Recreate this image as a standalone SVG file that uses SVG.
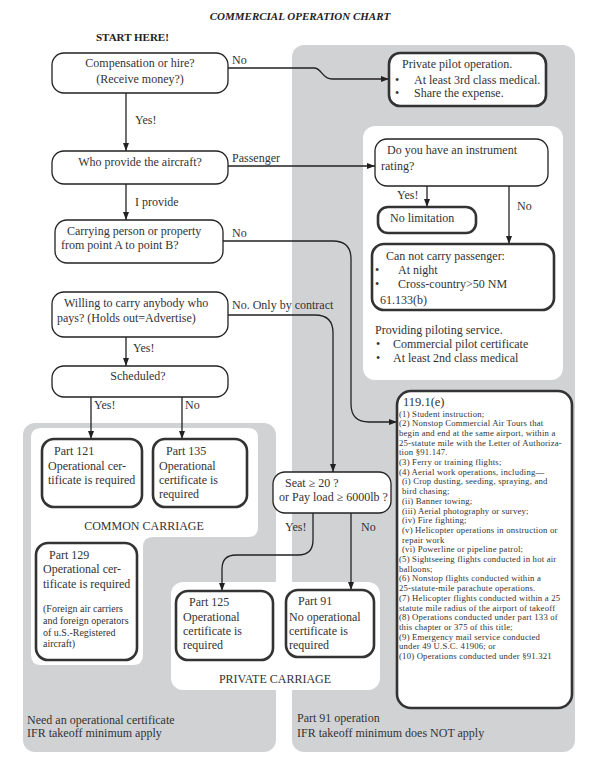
<svg xmlns="http://www.w3.org/2000/svg" width="603" height="763" viewBox="0 0 603 763">
<defs>
<marker id="arr" markerUnits="userSpaceOnUse" markerWidth="8" markerHeight="6" refX="8" refY="3" orient="auto">
<path d="M0,0 L8,3 L0,6 z" fill="#222"/>
</marker>
<style>
text{font-family:"Liberation Serif","Times New Roman",serif;fill:#333;font-size:12px}
.title{font-weight:bold;font-style:italic;font-size:11px;fill:#222}
.start{font-weight:bold;font-size:11px;fill:#222}
.c{text-anchor:middle}
.sm{font-size:8.7px;letter-spacing:0.2px}
.fs{font-size:10px}
.thin{fill:#fff;stroke:#222;stroke-width:1.3}
.thick{fill:#fff;stroke:#333;stroke-width:2.6}
.gray{fill:#d1d2d4}
.white{fill:#fff}
.con path{fill:none;stroke:#222;stroke-width:1.3;marker-end:url(#arr)}
</style>
</defs>
<rect width="603" height="763" fill="#fff"/>
<g id="panels">
<rect class="gray" x="292" y="45" width="283" height="707" rx="12"/>
<rect class="gray" x="23" y="423" width="253" height="329" rx="12"/>
<rect class="white" x="363" y="126" width="200" height="254" rx="12"/>
<path class="white" d="M41,428 H248 Q258,428 258,438 V527 Q258,537 248,537 H153 Q143,537 143,547 V655 Q143,665 133,665 H41 Q31,665 31,655 V438 Q31,428 41,428 Z"/>
<rect class="white" x="171" y="582" width="209" height="108" rx="12"/>
</g>
<text class="title c" x="300" y="20">COMMERCIAL OPERATION CHART</text>
<text class="start" x="96" y="41">START HERE!</text>
<g class="con" id="connectors">
<path d="M126,93 V151"/>
<path d="M228,68 H314 C322,68 322,79 332,79 H389"/>
<path d="M228,166 H375"/>
<path d="M126,184 V220"/>
<path d="M223,241 H333 Q351,241 351,259 V404 Q351,422 369,422 H397"/>
<path d="M228,315 H315 Q333,315 333,333 V472"/>
<path d="M126,337 V366"/>
<path d="M91,397 V439"/>
<path d="M182,397 V439"/>
<path d="M313,513 V540 Q313,555 298,555 H236 Q222,555 222,569 V591"/>
<path d="M351,513 V590"/>
<path d="M427,186 V207"/>
<path d="M509,186 V244"/>
</g>
<g id="labels">
<text x="135" y="124">Yes!</text>
<text x="232" y="64">No</text>
<text x="232" y="162">Passenger</text>
<text x="135" y="206">I provide</text>
<text x="232" y="237">No</text>
<text x="232" y="309">No. Only by contract</text>
<text x="133" y="352">Yes!</text>
<text x="94" y="409">Yes!</text>
<text x="185" y="409">No</text>
<text x="285" y="531">Yes!</text>
<text x="361" y="531">No</text>
<text x="397" y="199">Yes!</text>
<text x="517" y="210">No</text>
</g>
<g id="n-comp">
<rect class="thin" x="52" y="53" width="176" height="40" rx="12"/>
<text class="c" x="140" y="67">Compensation or hire?</text>
<text class="c" x="140" y="83">(Receive money?)</text>
</g>
<g id="n-who">
<rect class="thin" x="52" y="151" width="176" height="33" rx="12"/>
<text class="c" x="140" y="166">Who provide the aircraft?</text>
</g>
<g id="n-carry">
<rect class="thin" x="55" y="220" width="168" height="43" rx="12"/>
<text x="67" y="235">Carrying person or property</text>
<text x="61" y="249">from point A to point B?</text>
</g>
<g id="n-willing">
<rect class="thin" x="52" y="292" width="176" height="45" rx="12"/>
<text x="64" y="307">Willing to carry anybody who</text>
<text x="57" y="322">pays? (Holds out=Advertise)</text>
</g>
<g id="n-sched">
<rect class="thin" x="52" y="366" width="176" height="31" rx="12"/>
<text class="c" x="138" y="380">Scheduled?</text>
</g>
<g id="n-private">
<rect class="thick" x="389" y="53" width="157" height="53" rx="11"/>
<text x="402" y="68">Private pilot operation.</text>
<text x="395" y="84">•</text>
<text x="414" y="84">At least 3rd class medical.</text>
<text x="395" y="97">•</text>
<text x="414" y="97">Share the expense.</text>
</g>
<g id="n-instr">
<rect class="thin" x="375" y="139" width="173" height="47" rx="12"/>
<text x="387" y="154">Do you have an instrument</text>
<text x="381" y="170">rating?</text>
</g>
<g id="n-nolim">
<rect class="thick" x="378" y="207" width="98" height="26" rx="10"/>
<text x="390" y="222">No limitation</text>
</g>
<g id="n-cannot">
<rect class="thick" x="372" y="244" width="182" height="66" rx="12"/>
<text x="386" y="260">Can not carry passenger:</text>
<text x="375" y="274">•</text>
<text x="398" y="274">At night</text>
<text x="375" y="288">•</text>
<text x="398" y="288">Cross-country&gt;50 NM</text>
<text x="380" y="304">61.133(b)</text>
</g>
<g id="n-piloting">
<text x="375" y="334">Providing piloting service.</text>
<text x="376" y="348">•</text>
<text x="393" y="348">Commercial pilot certificate</text>
<text x="376" y="362">•</text>
<text x="393" y="362">At least 2nd class medical</text>
</g>
<g id="n-121">
<rect class="thick" x="42" y="439" width="100" height="68" rx="12"/>
<text x="54" y="455">Part 121</text>
<text x="48" y="470">Operational cer-</text>
<text x="48" y="484">tificate is required</text>
</g>
<g id="n-135">
<rect class="thick" x="153" y="439" width="94" height="68" rx="12"/>
<text x="166" y="455">Part 135</text>
<text x="159" y="470">Operational</text>
<text x="159" y="484">certificate is</text>
<text x="159" y="498">required</text>
</g>
<text class="c" x="144" y="530">COMMON CARRIAGE</text>
<g id="n-129">
<rect class="thick" x="36" y="543" width="101" height="117" rx="12"/>
<text x="49" y="559">Part 129</text>
<text x="43" y="573">Operational cer-</text>
<text x="43" y="588">tificate is required</text>
<text class="fs" x="43" y="612">(Foreign air carriers</text>
<text class="fs" x="43" y="624">and foreign operators</text>
<text class="fs" x="43" y="636">of u.S.-Registered</text>
<text class="fs" x="43" y="647">aircraft)</text>
</g>
<g id="n-seat">
<rect class="thin" x="273" y="472" width="118" height="41" rx="12"/>
<text x="285" y="487">Seat ≥ 20 ?</text>
<text x="279" y="501">or Pay load ≥ 6000lb ?</text>
</g>
<g id="n-125">
<rect class="thick" x="176" y="591" width="97" height="69" rx="12"/>
<text x="189" y="606">Part 125</text>
<text x="183" y="621">Operational</text>
<text x="183" y="635">certificate is</text>
<text x="183" y="649">required</text>
</g>
<g id="n-91">
<rect class="thick" x="286" y="590" width="88" height="67" rx="12"/>
<text x="298" y="605">Part 91</text>
<text x="289" y="621">No operational</text>
<text x="289" y="635">certificate is</text>
<text x="289" y="649">required</text>
</g>
<text class="c" x="275" y="683">PRIVATE CARRIAGE</text>
<g id="n-119">
<rect class="thick" x="397" y="391" width="175" height="317" rx="14"/>
<text x="403" y="406" style="font-size:12.5px">119.1(e)</text>
<text class="sm" x="399" y="416.5">(1) Student instruction;</text>
<text class="sm" x="399" y="426.2">(2) Nonstop Commercial Air Tours that</text>
<text class="sm" x="399" y="435.9">begin and end at the same airport, within a</text>
<text class="sm" x="399" y="445.6">25-statute mile with the Letter of Authoriza-</text>
<text class="sm" x="399" y="455.3">tion  §91.147.</text>
<text class="sm" x="399" y="465">(3) Ferry or training flights;</text>
<text class="sm" x="399" y="474.7">(4) Aerial work operations, including—</text>
<text class="sm" x="402" y="484.4">(i) Crop dusting, seeding, spraying, and</text>
<text class="sm" x="402" y="494.1">bird chasing;</text>
<text class="sm" x="402" y="503.8">(ii) Banner towing;</text>
<text class="sm" x="402" y="513.5">(iii) Aerial photography or survey;</text>
<text class="sm" x="402" y="523.2">(iv) Fire fighting;</text>
<text class="sm" x="402" y="532.9">(v) Helicopter operations in onstruction or</text>
<text class="sm" x="402" y="542.6">repair work</text>
<text class="sm" x="402" y="552.3">(vi) Powerline or pipeline patrol;</text>
<text class="sm" x="399" y="562">(5) Sightseeing flights conducted in hot air</text>
<text class="sm" x="399" y="571.7">balloons;</text>
<text class="sm" x="399" y="581.4">(6) Nonstop flights conducted within a</text>
<text class="sm" x="399" y="591.1">25-statute-mile parachute operations.</text>
<text class="sm" x="399" y="600.8">(7) Helicopter flights conducted within a 25</text>
<text class="sm" x="399" y="610.5">statute mile radius of the airport of takeoff</text>
<text class="sm" x="399" y="620.2">(8) Operations conducted under part 133 of</text>
<text class="sm" x="399" y="629.9">this chapter or 375 of this title;</text>
<text class="sm" x="399" y="639.6">(9) Emergency mail service conducted</text>
<text class="sm" x="399" y="649.3">under 49 U.S.C. 41906; or</text>
<text class="sm" x="399" y="659">(10) Operations conducted under §91.321</text>
</g>
<g id="footer">
<text x="27" y="724">Need an operational certificate</text>
<text x="27" y="737">IFR takeoff minimum apply</text>
<text x="297" y="722">Part 91 operation</text>
<text x="297" y="737">IFR takeoff minimum does NOT apply</text>
</g>
</svg>
